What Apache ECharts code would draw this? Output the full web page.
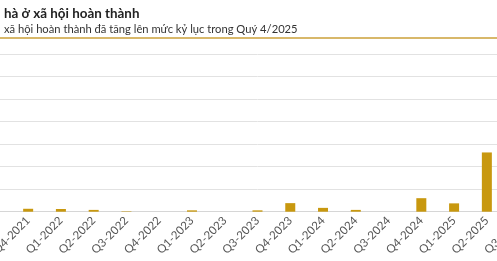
<!DOCTYPE html>
<html>
<head>
<meta charset="utf-8">
<script src="https://cdn.jsdelivr.net/npm/echarts@6/dist/echarts.min.js"></script>
<style>
html,body{margin:0;padding:0;background:#fff;overflow:hidden;width:497px;height:261px;position:relative;}
#c{width:557px;height:261px;position:absolute;left:-21px;top:0;}
</style>
</head>
<body>
<div id="c"></div>
<script>
const titleText = "hà ở xã hội hoàn thành";
const subtitleText = "xã hội hoàn thành đã tăng lên mức kỷ lục trong Quý 4/2025";
const categories = ["Q3-2021","Q4-2021","Q1-2022","Q2-2022","Q3-2022","Q4-2022","Q1-2023","Q2-2023","Q3-2023","Q4-2023","Q1-2024","Q2-2024","Q3-2024","Q4-2024","Q1-2025","Q2-2025","Q3-2025"];
const values = [0, 0.13, 0.12, 0.08, 0.02, 0, 0.06, 0, 0.06, 0.38, 0.17, 0.08, 0, 0.6, 0.37, 2.63, null];
const yMax = 7;
const yInterval = 1;

const chart = echarts.init(document.getElementById('c'), null, {renderer:'canvas'});
chart.setOption({
  animation:false,
  backgroundColor:'#fff',
  title:[
    {text:titleText, left:20, top:2, textStyle:{fontFamily:'Lato', fontWeight:'bold', fontSize:13.4, color:'#222'}},
    {text:subtitleText, left:20, top:19, textStyle:{fontFamily:'Lato', fontWeight:'normal', fontSize:11.2, color:'#333'}}
  ],
  graphic:[{type:'rect', left:21, top:37, shape:{width:497, height:2}, style:{fill:'#d8b86a'}}],
  grid:{left:0, right:0, top:54, bottom:49.3, containLabel:false, outerBoundsMode:'none'},
  xAxis:{
    type:'category', data:categories,
    axisLine:{show:true, lineStyle:{color:'#d6d6d6', width:1}},
    axisTick:{show:false},
    axisLabel:{rotate:45, margin:7, fontFamily:'Lato', fontSize:11.5, color:'#555', interval:0}
  },
  yAxis:{
    type:'value', min:0, max:yMax, interval:yInterval,
    axisLabel:{show:false}, axisLine:{show:false}, axisTick:{show:false},
    splitLine:{lineStyle:{color:'#e2e2e2', width:1}}
  },
  series:[{type:'bar', data:values, barWidth:10, itemStyle:{color:'#c8980f'}}]
});
</script>
</body>
</html>
